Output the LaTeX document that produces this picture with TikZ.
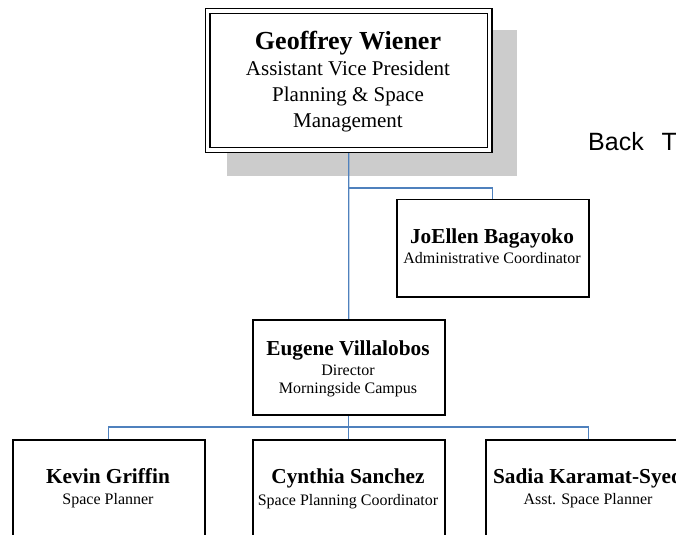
\documentclass[tikz,border=0pt]{standalone}
\usepackage{fontspec}
\setmainfont{Liberation Serif}
\newfontfamily\backfont{Liberation Sans}
\usetikzlibrary{backgrounds}
\definecolor{connblue}{RGB}{79,129,189}
\definecolor{shadowgray}{RGB}{204,204,204}
\begin{document}
\begin{tikzpicture}[x=1bp,y=-1bp,
  box/.style={draw=black, line width=1.5bp, fill=white, inner sep=0pt, anchor=north west, minimum width=192bp},
  conn/.style={draw=connblue, line width=1.3bp},
  bigname/.style={font=\bfseries\fontsize{26bp}{30bp}\selectfont, anchor=base, inner sep=0pt},
  bigrole/.style={font=\fontsize{21bp}{25bp}\selectfont, anchor=base, inner sep=0pt},
  pname/.style={font=\bfseries\fontsize{21.3bp}{25bp}\selectfont, anchor=base, inner sep=0pt},
  prole/.style={font=\fontsize{16bp}{19bp}\selectfont, anchor=base, inner sep=0pt},
]
\useasboundingbox (0,0) rectangle (676,535);

% boxes
\node[draw=black, line width=1.3bp, double=white, double distance=3.4bp, fill=white,
      inner sep=0pt, anchor=north west, minimum width=282bp, minimum height=139bp] (top) at (207,10.5) {};
\node[box, minimum height=97bp] (jo) at (396,199) {};
\node[box, minimum height=95bp] (eug) at (252,319) {};
\node[box, minimum height=105bp] (kev) at (12,439) {};
\node[box, minimum height=105bp] (cyn) at (252,439) {};
\node[box, minimum height=105bp, minimum width=206bp] (sad) at (485,439) {};

% texts
\node[bigname] (t1) at (348,50) {Geoffrey Wiener};
\node[bigrole] (t2) at (348,76) {Assistant Vice President};
\node[bigrole] (t3) at (348,102) {Planning \& Space};
\node[bigrole] (t4) at (348,128) {Management};

\node[pname] (j1) at (492,244) {JoEllen Bagayoko};
\node[prole] (j2) at (492,264) {Administrative Coordinator};

\node[pname] (e1) at (348,355) {Eugene Villalobos};
\node[prole] (e2) at (348,375) {Director};
\node[prole] (e3) at (348,393) {Morningside Campus};

\node[pname] (k1) at (108,483) {Kevin Griffin};
\node[prole] (k2) at (108,504) {Space Planner};

\node[pname] (c1) at (348,483) {Cynthia Sanchez};
\node[prole] (c2) at (348,505) {Space Planning Coordinator};

\node[pname] (s1) at (588,483) {Sadia Karamat-Syed};
\node[prole] (s2) at (588,504) {Asst. Space Planner};

\node[font=\backfont\fontsize{25bp}{30bp}\selectfont, anchor=base west, inner sep=0pt] (back) at (588,151) {Back\hspace{11bp} T};

% branch points
\coordinate (b1) at (348,188);
\coordinate (b2) at (348,427);

\begin{pgfonlayer}{background}
  \fill[shadowgray] (227,30) rectangle (517,176);
  \draw[conn] (top.south) -- (eug.north);
  \draw[conn] (b1) -| (jo.north);
  \draw[conn] (eug.south) -- (cyn.north);
  \draw[conn] (kev.north) |- (b2) -| (sad.north);
\end{pgfonlayer}
\end{tikzpicture}
\end{document}
